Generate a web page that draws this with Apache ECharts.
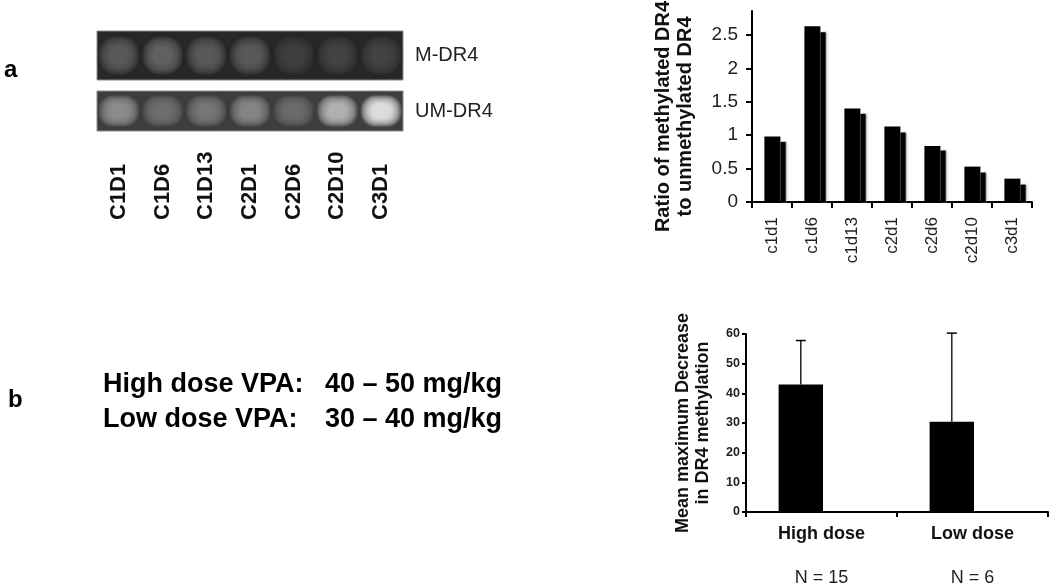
<!DOCTYPE html>
<html>
<head>
<meta charset="utf-8">
<script src="https://cdn.jsdelivr.net/npm/echarts@6/dist/echarts.min.js"></script>
<style>
  html, body { margin: 0; padding: 0; background: #fff; }
  #main { width: 1050px; height: 583px; }
</style>
</head>
<body>
<div id="main"></div>
<script>
const FONT = '"Liberation Sans", Arial, sans-serif';

// panel a, gel lanes and band brightness (0-255)
const lanes = ['C1D1', 'C1D6', 'C1D13', 'C2D1', 'C2D6', 'C2D10', 'C3D1'];
const gelRows = ['M-DR4', 'UM-DR4'];
const gelBackground = [40, 62];
const methylBand = [90, 100, 88, 92, 66, 70, 68];
const unmethylBand = [140, 112, 118, 132, 106, 172, 215];

// panel a, ratio chart (front face / back step of the 3d bars)
const timepoints = ['c1d1', 'c1d6', 'c1d13', 'c2d1', 'c2d6', 'c2d10', 'c3d1'];
const ratioFront = [0.98, 2.63, 1.40, 1.13, 0.84, 0.53, 0.35];
const ratioBack = [0.90, 2.54, 1.32, 1.04, 0.77, 0.44, 0.26];
const ratioTicks = [0, 0.5, 1, 1.5, 2, 2.5];

// panel b
const doseLabels = ['High dose VPA:', 'Low dose VPA:'];
const doseRanges = ['40 \u2013 50 mg/kg', '30 \u2013 40 mg/kg'];
const doseGroups = ['High dose', 'Low dose'];
const groupN = ['N = 15', 'N = 6'];
const meanDecrease = [43, 30.4];
const sdDecrease = [14.8, 29.9];

const chart = echarts.init(document.getElementById('main'), null, { renderer: 'canvas' });

// soft gel band: stacked translucent rounded rects, brightest in the middle
const LAYERS = 8;
const LAYER_ALPHA = 0.2;
function gelBand(params, api) {
  const c = api.coord([api.value(0), 0]);
  const band = api.size([1, 0])[0];
  const cs = params.coordSys;
  const bg = gelBackground[params.seriesIndex];
  const reach = 1 - Math.pow(1 - LAYER_ALPHA, LAYERS);
  const v = Math.min(255, Math.round(bg + (api.value(2) - bg) / reach));
  const color = 'rgba(' + v + ',' + v + ',' + v + ',' + LAYER_ALPHA + ')';
  const cy = cs.y + cs.height * 0.5;
  const children = [];
  for (let k = 0; k < LAYERS; k++) {
    const t = k / (LAYERS - 1);
    const w = band * (0.92 - 0.5 * t);
    const h = cs.height * (0.78 - 0.42 * t);
    children.push({
      type: 'rect',
      shape: { x: c[0] - w / 2, y: cy - h / 2, width: w, height: h, r: Math.min(w, h) * 0.45 },
      style: { fill: color, shadowBlur: 6, shadowColor: color }
    });
  }
  return { type: 'group', children: children };
}

function bar3d(params, api) {
  const base = api.coord([api.value(0), 0]);
  const band = api.size([1, 0])[0];
  const front = api.coord([api.value(0), api.value(1)]);
  const back = api.coord([api.value(0), api.value(2)]);
  const x0 = base[0] - band / 2;
  return {
    type: 'group',
    children: [
      { type: 'rect', shape: { x: x0 + band * 0.31, y: front[1], width: band * 0.40, height: base[1] - front[1] }, style: { fill: '#000' } },
      { type: 'rect', shape: { x: x0 + band * 0.71, y: back[1], width: band * 0.13, height: base[1] - back[1] }, style: { fill: '#000', shadowBlur: 2, shadowColor: '#888', shadowOffsetX: 1 } }
    ]
  };
}

function doseBar(params, api) {
  const base = api.coord([api.value(0), 0]);
  const band = api.size([1, 0])[0];
  const top = api.coord([api.value(0), api.value(1)]);
  const err = api.coord([api.value(0), api.value(1) + api.value(2)]);
  const x0 = base[0] - band / 2 + band * 0.216;
  const w = band * 0.294;
  const cx = x0 + w / 2;
  return {
    type: 'group',
    children: [
      { type: 'rect', shape: { x: x0, y: top[1], width: w, height: base[1] - top[1] }, style: { fill: '#000' } },
      { type: 'line', shape: { x1: cx, y1: top[1], x2: cx, y2: err[1] }, style: { stroke: '#000', lineWidth: 1.3 } },
      { type: 'line', shape: { x1: cx - 5, y1: err[1], x2: cx + 5, y2: err[1] }, style: { stroke: '#000', lineWidth: 1.5 } }
    ]
  };
}

const blackAxisLine = { show: true, lineStyle: { color: '#000', width: 2 } };
const gray = (v) => 'rgb(' + v + ',' + v + ',' + v + ')';

const option = {
  backgroundColor: '#fff',
  animation: false,
  textStyle: { fontFamily: FONT },
  grid: [
    { left: 97, top: 31, width: 306, height: 49, outerBoundsMode: 'none', show: true, backgroundColor: gray(gelBackground[0]), borderColor: '#8a8a8a', borderWidth: 1 },
    { left: 97, top: 91, width: 306, height: 40, outerBoundsMode: 'none', show: true, backgroundColor: gray(gelBackground[1]), borderColor: '#8a8a8a', borderWidth: 1 },
    { left: 752, top: 11, width: 280, height: 191, outerBoundsMode: 'none' },
    { left: 746, top: 334, width: 302, height: 178, outerBoundsMode: 'none' }
  ],
  xAxis: [
    { gridIndex: 0, type: 'category', data: lanes, axisLine: { show: false }, axisTick: { show: false }, axisLabel: { show: false } },
    {
      gridIndex: 1, type: 'category', data: lanes,
      axisLine: { show: false }, axisTick: { show: false },
      axisLabel: { rotate: 90, align: 'left', margin: 89, interval: 0, fontSize: 22, fontWeight: 'bold', color: '#111', fontFamily: FONT }
    },
    {
      gridIndex: 2, type: 'category', data: timepoints,
      axisLine: blackAxisLine,
      axisTick: { show: true, length: 6, lineStyle: { color: '#000', width: 2 } },
      axisLabel: { rotate: 90, margin: 15, interval: 0, fontSize: 17, color: '#222', fontFamily: FONT }
    },
    {
      gridIndex: 3, type: 'category', data: doseGroups,
      axisLine: blackAxisLine,
      axisTick: { show: true, length: 5, lineStyle: { color: '#000', width: 2 } },
      axisLabel: {
        margin: 11, interval: 0, fontFamily: FONT,
        formatter: (val, idx) => '{a|' + val + '}\n{s| }\n{b|' + groupN[idx] + '}',
        rich: {
          a: { fontSize: 18, fontWeight: 'bold', color: '#111', lineHeight: 22, fontFamily: FONT },
          s: { fontSize: 10, lineHeight: 22 },
          b: { fontSize: 18, color: '#222', lineHeight: 22, fontFamily: FONT }
        }
      }
    }
  ],
  yAxis: [
    {
      gridIndex: 0, type: 'category', data: [gelRows[0]], position: 'right',
      axisLine: { show: false }, axisTick: { show: false },
      axisLabel: { margin: 12, fontSize: 20, color: '#222', fontFamily: FONT, padding: [0, 0, 4, 0] }
    },
    {
      gridIndex: 1, type: 'category', data: [gelRows[1]], position: 'right',
      axisLine: { show: false }, axisTick: { show: false },
      axisLabel: { margin: 12, fontSize: 20, color: '#222', fontFamily: FONT }
    },
    {
      gridIndex: 2, type: 'value', min: ratioTicks[0], max: 2.86, interval: 0.5,
      splitLine: { show: false },
      axisLine: blackAxisLine,
      axisTick: { show: true, length: 6, lineStyle: { color: '#000', width: 2 } },
      axisLabel: { margin: 14, fontSize: 19, color: '#222', fontFamily: FONT, showMaxLabel: false },
      name: 'Ratio of methylated DR4\nto unmethylated DR4',
      nameLocation: 'middle', nameRotate: 90, nameGap: 56,
      nameTextStyle: { fontSize: 20, fontWeight: 'bold', color: '#111', lineHeight: 22, fontFamily: FONT, padding: [0, 20, 0, 0] }
    },
    {
      gridIndex: 3, type: 'value', min: 0, max: 60, interval: 10,
      splitLine: { show: false },
      axisLine: blackAxisLine,
      axisTick: { show: true, length: 4, lineStyle: { color: '#000', width: 2 } },
      axisLabel: { margin: 6, fontSize: 12.5, fontWeight: 'bold', color: '#222', fontFamily: FONT },
      name: 'Mean maximum Decrease\nin DR4 methylation',
      nameLocation: 'middle', nameRotate: 90, nameGap: 33,
      nameTextStyle: { fontSize: 18, fontWeight: 'bold', color: '#111', lineHeight: 20, fontFamily: FONT }
    }
  ],
  series: [
    {
      type: 'custom', xAxisIndex: 0, yAxisIndex: 0, renderItem: gelBand,
      encode: { x: 0, y: 1 },
      data: methylBand.map((v, i) => [i, 0, v])
    },
    {
      type: 'custom', xAxisIndex: 1, yAxisIndex: 1, renderItem: gelBand,
      encode: { x: 0, y: 1 },
      data: unmethylBand.map((v, i) => [i, 0, v])
    },
    {
      type: 'custom', xAxisIndex: 2, yAxisIndex: 2, renderItem: bar3d,
      encode: { x: 0, y: 1 },
      data: ratioFront.map((v, i) => [i, v, ratioBack[i]])
    },
    {
      type: 'custom', xAxisIndex: 3, yAxisIndex: 3, renderItem: doseBar,
      encode: { x: 0, y: 1 },
      data: meanDecrease.map((v, i) => [i, v, sdDecrease[i]])
    }
  ],
  graphic: [
    { type: 'text', x: 4, y: 70, style: { text: 'a', font: 'bold 24px ' + FONT, fill: '#000', textVerticalAlign: 'middle' } },
    { type: 'text', x: 8, y: 400, style: { text: 'b', font: 'bold 24px ' + FONT, fill: '#000', textVerticalAlign: 'middle' } },
    { type: 'text', x: 103, y: 385, style: { text: doseLabels[0], font: 'bold 27px ' + FONT, fill: '#000', textVerticalAlign: 'middle' } },
    { type: 'text', x: 502, y: 385, style: { text: doseRanges[0], font: 'bold 27px ' + FONT, fill: '#000', textAlign: 'right', textVerticalAlign: 'middle' } },
    { type: 'text', x: 103, y: 420, style: { text: doseLabels[1], font: 'bold 27px ' + FONT, fill: '#000', textVerticalAlign: 'middle' } },
    { type: 'text', x: 502, y: 420, style: { text: doseRanges[1], font: 'bold 27px ' + FONT, fill: '#000', textAlign: 'right', textVerticalAlign: 'middle' } }
  ]
};

chart.setOption(option);
</script>
</body>
</html>
